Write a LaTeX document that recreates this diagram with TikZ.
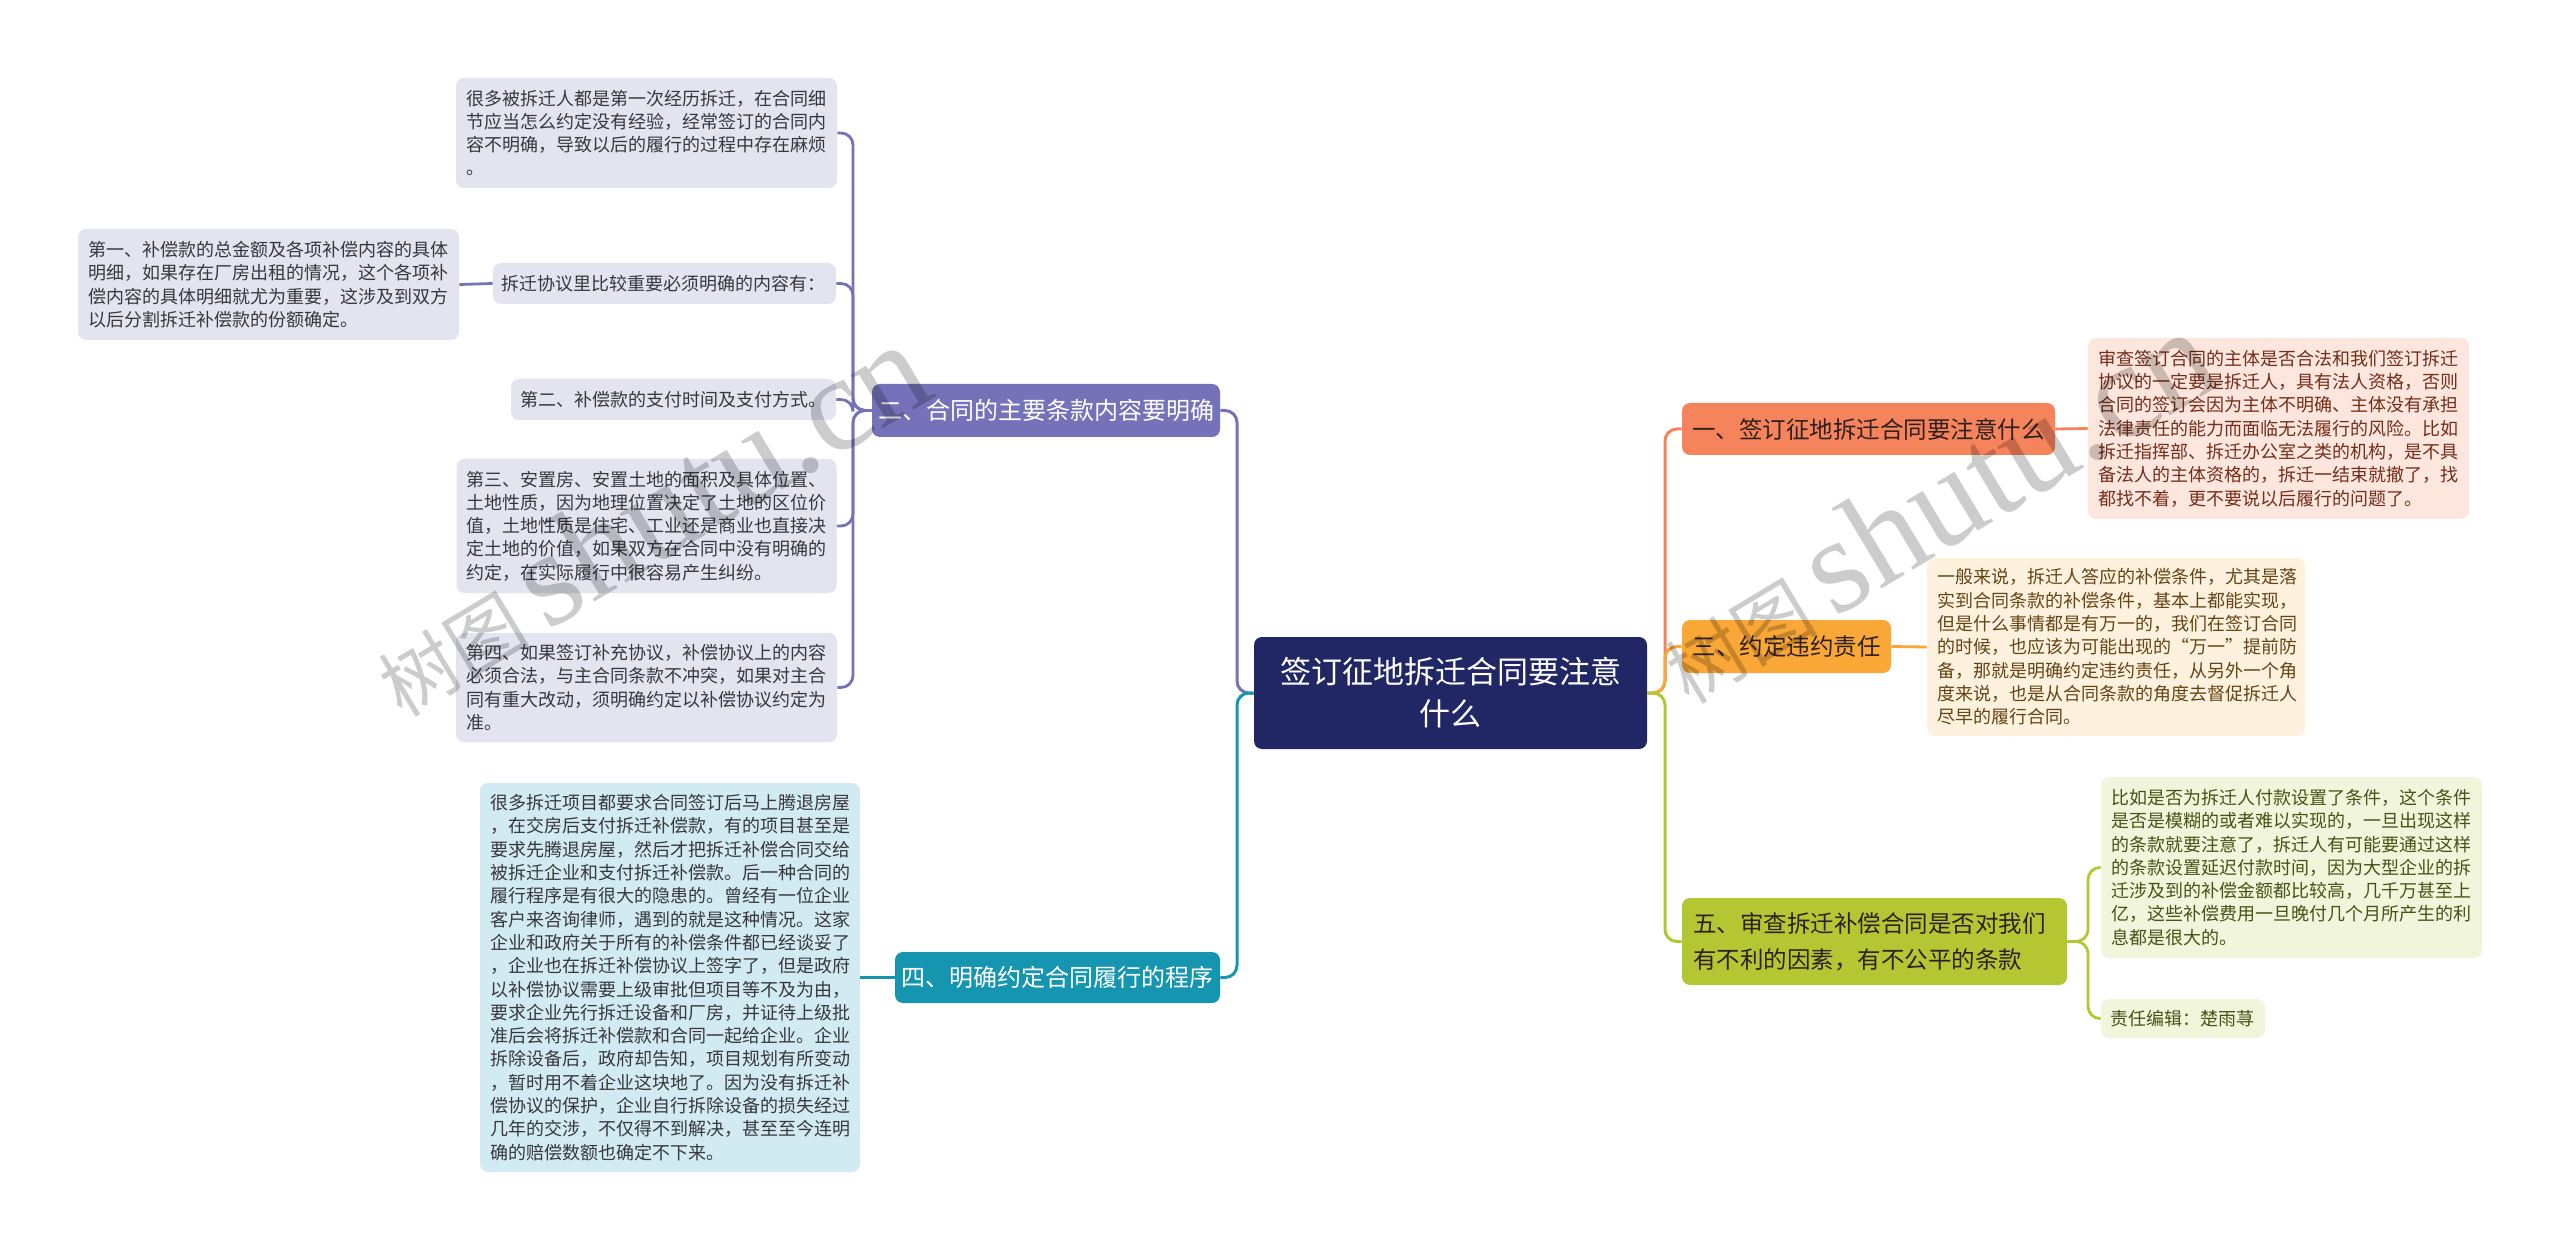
\documentclass[tikz,border=0pt]{standalone}
\usepackage{fontspec}
\setmainfont{Noto Sans CJK SC}
\newfontfamily\wmlatin{Liberation Serif}
\definecolor{rootc}{RGB}{33,39,101}
\definecolor{cpurple}{RGB}{117,114,186}
\definecolor{lpfill}{RGB}{228,228,241}
\definecolor{cteal}{RGB}{22,149,176}
\definecolor{tfill}{RGB}{210,235,242}
\definecolor{corange}{RGB}{245,131,92}
\definecolor{ofill}{RGB}{253,230,222}
\definecolor{cyellow}{RGB}{249,167,54}
\definecolor{yfill}{RGB}{254,242,223}
\definecolor{cgreen}{RGB}{180,199,50}
\definecolor{gfill}{RGB}{241,245,220}
\definecolor{lgtext}{RGB}{55,55,60}
\definecolor{otext}{RGB}{115,45,25}
\definecolor{ytext}{RGB}{100,68,20}
\definecolor{gtext}{RGB}{72,82,20}
\definecolor{btext}{RGB}{45,32,30}
\begin{document}
\begin{tikzpicture}[x=0.5pt,y=-0.5pt,
  box/.style={rounded corners=4pt, inner sep=0pt, anchor=center},
  leaf/.style={box, align=left, inner xsep=5pt, font=\fontsize{9}{11.65}\selectfont},
  leafL/.style={leaf, fill=lpfill, text=lgtext},
  leafT/.style={leaf, fill=tfill, text=lgtext},
  leafO/.style={leaf, fill=ofill, text=otext},
  leafY/.style={leaf, fill=yfill, text=ytext},
  leafG/.style={leaf, fill=gfill, text=gtext},
  brL/.style={box, text=white, align=center, font=\fontsize{12}{15}\selectfont},
  brR/.style={box, text=btext, align=left, font=\fontsize{11.75}{18}\selectfont},
  conn/.style={line width=1.5pt, rounded corners=6pt},
  wm/.style={rotate=31, text=black, opacity=0.2, anchor=center}
]
\useasboundingbox[fill=white] (0,0) rectangle (2560,1251);

% root
\node[box, fill=rootc, text=white, align=center, minimum width=196.5pt, minimum height=56pt,
  font=\fontsize{15.5}{21}\selectfont] (root) at (1450.5,693) {签订征地拆迁合同要注意\\什么};

% branches
\node[brL, fill=cpurple, minimum width=174pt, minimum height=26.5pt] (b2) at (1046,410.5) {二、合同的主要条款内容要明确};
\node[brL, fill=cteal, minimum width=162.5pt, minimum height=25.5pt] (b4) at (1057.5,977.5) {四、明确约定合同履行的程序};
\node[brR, fill=corange, minimum width=186.5pt, minimum height=26pt, align=center] (b1) at (1868.5,429) {一、签订征地拆迁合同要注意什么};
\node[brR, fill=cyellow, minimum width=104.5pt, minimum height=26.5pt, align=center] (b3) at (1786.5,646.5) {三、约定违约责任};
\node[brR, fill=cgreen, inner xsep=5.5pt, text width=181.5pt, minimum height=43.5pt] (b5) at (1874.5,941.5) {五、审查拆迁补偿合同是否对我们\\有不利的因素，有不公平的条款};

% left leaves
\node[leafL, text width=180.5pt, minimum height=55pt] (la) at (646.5,133) {很多被拆迁人都是第一次经历拆迁，在合同细\\节应当怎么约定没有经验，经常签订的合同内\\容不明确，导致以后的履行的过程中存在麻烦\\。};
\node[leafL, inner xsep=4pt, text width=163.5pt, minimum height=20.5pt] (lb) at (664.5,283.5) {拆迁协议里比较重要必须明确的内容有：};
\node[leafL, text width=180.5pt, minimum height=55.5pt] (lc) at (268.5,284.5) {第一、补偿款的总金额及各项补偿内容的具体\\明细，如果存在厂房出租的情况，这个各项补\\偿内容的具体明细就尤为重要，这涉及到双方\\以后分割拆迁补偿款的份额确定。};
\node[leafL, inner xsep=4.5pt, text width=153.5pt, minimum height=20.5pt] (ld) at (673.5,399.5) {第二、补偿款的支付时间及支付方式。};
\node[leafL, text width=180pt, minimum height=67pt] (le) at (646.5,526) {第三、安置房、安置土地的面积及具体位置、\\土地性质，因为地理位置决定了土地的区位价\\值，土地性质是住宅、工业还是商业也直接决\\定土地的价值，如果双方在合同中没有明确的\\约定，在实际履行中很容易产生纠纷。};
\node[leafL, text width=180.5pt, minimum height=54.5pt] (lf) at (646.5,687.5) {第四、如果签订补充协议，补偿协议上的内容\\必须合法，与主合同条款不冲突，如果对主合\\同有重大改动，须明确约定以补偿协议约定为\\准。};
\node[leafT, text width=180pt, minimum height=194.5pt] (lg) at (670,977.5) {很多拆迁项目都要求合同签订后马上腾退房屋\\，在交房后支付拆迁补偿款，有的项目甚至是\\要求先腾退房屋，然后才把拆迁补偿合同交给\\被拆迁企业和支付拆迁补偿款。后一种合同的\\履行程序是有很大的隐患的。曾经有一位企业\\客户来咨询律师，遇到的就是这种情况。这家\\企业和政府关于所有的补偿条件都已经谈妥了\\，企业也在拆迁补偿协议上签字了，但是政府\\以补偿协议需要上级审批但项目等不及为由，\\要求企业先行拆迁设备和厂房，并证待上级批\\准后会将拆迁补偿款和合同一起给企业。企业\\拆除设备后，政府却告知，项目规划有所变动\\，暂时用不着企业这块地了。因为没有拆迁补\\偿协议的保护，企业自行拆除设备的损失经过\\几年的交涉，不仅得不到解决，甚至至今连明\\确的赔偿数额也确定不下来。};

% right leaves
\node[leafO, text width=180.5pt, minimum height=90.5pt] (rh) at (2278.5,428.5) {审查签订合同的主体是否合法和我们签订拆迁\\协议的一定要是拆迁人，具有法人资格，否则\\合同的签订会因为主体不明确、主体没有承担\\法律责任的能力而面临无法履行的风险。比如\\拆迁指挥部、拆迁办公室之类的机构，是不具\\备法人的主体资格的，拆迁一结束就撤了，找\\都找不着，更不要说以后履行的问题了。};
\node[leafY, text width=179pt, minimum height=89pt] (ri) at (2116,647) {一般来说，拆迁人答应的补偿条件，尤其是落\\实到合同条款的补偿条件，基本上都能实现，\\但是什么事情都是有万一的，我们在签订合同\\的时候，也应该为可能出现的“万一”提前防\\备，那就是明确约定违约责任，从另外一个角\\度来说，也是从合同条款的角度去督促拆迁人\\尽早的履行合同。};
\node[leafG, text width=180.5pt, minimum height=90.5pt] (rj) at (2291.5,867.5) {比如是否为拆迁人付款设置了条件，这个条件\\是否是模糊的或者难以实现的，一旦出现这样\\的条款就要注意了，拆迁人有可能要通过这样\\的条款设置延迟付款时间，因为大型企业的拆\\迁涉及到的补偿金额都比较高，几千万甚至上\\亿，这些补偿费用一旦晚付几个月所产生的利\\息都是很大的。};
\node[leafG, inner xsep=4.5pt, text width=73pt, minimum height=19.5pt] (rk) at (2183,1018.5) {责任编辑：楚雨荨};

% junction coordinates
\coordinate (jl) at (1237,0);
\coordinate (jr) at (1665,0);
\coordinate (j2) at (853,0);
\coordinate (j5) at (2088,0);

% connectors: root to branches
\draw[conn, cpurple] (root.west) -- (root.west -| jl) |- (b2.east);
\draw[conn, cteal] (root.west) -- (root.west -| jl) |- (b4.east);
\draw[conn, corange] (root.east) -- (root.east -| jr) |- (b1.west);
\draw[conn, cyellow] (root.east) -- (root.east -| jr) |- (b3.west);
\draw[conn, cgreen] (root.east) -- (root.east -| jr) |- (b5.west);

% branch children
\foreach \t in {la,lb,ld,le,lf}{
  \draw[conn, cpurple, line width=1.4pt] (b2.west) -- (b2.west -| j2) |- (\t.east);
}
\draw[conn, cpurple, line width=1.4pt] (lb.west) -- (lc.east);
\draw[conn, cteal, line width=1.4pt] (b4.west) -- (lg.east);
\draw[conn, corange, line width=1.4pt] (b1.east) -- (rh.west);
\draw[conn, cyellow, line width=1.4pt] (b3.east) -- (ri.west);
\draw[conn, cgreen, line width=1.4pt] (b5.east) -- (b5.east -| j5) |- (rj.west);
\draw[conn, cgreen, line width=1.4pt] (b5.east) -- (b5.east -| j5) |- (rk.west);

% watermarks
\node[wm] (wm1) at (648,519) {\fontsize{38}{38}\selectfont 树图 {\wmlatin\fontsize{68}{68}\selectfont shutu.cn}};
\node[wm] (wm2) at (1935,506) {\fontsize{38}{38}\selectfont 树图 {\wmlatin\fontsize{68}{68}\selectfont shutu.cn}};
\end{tikzpicture}
\end{document}
